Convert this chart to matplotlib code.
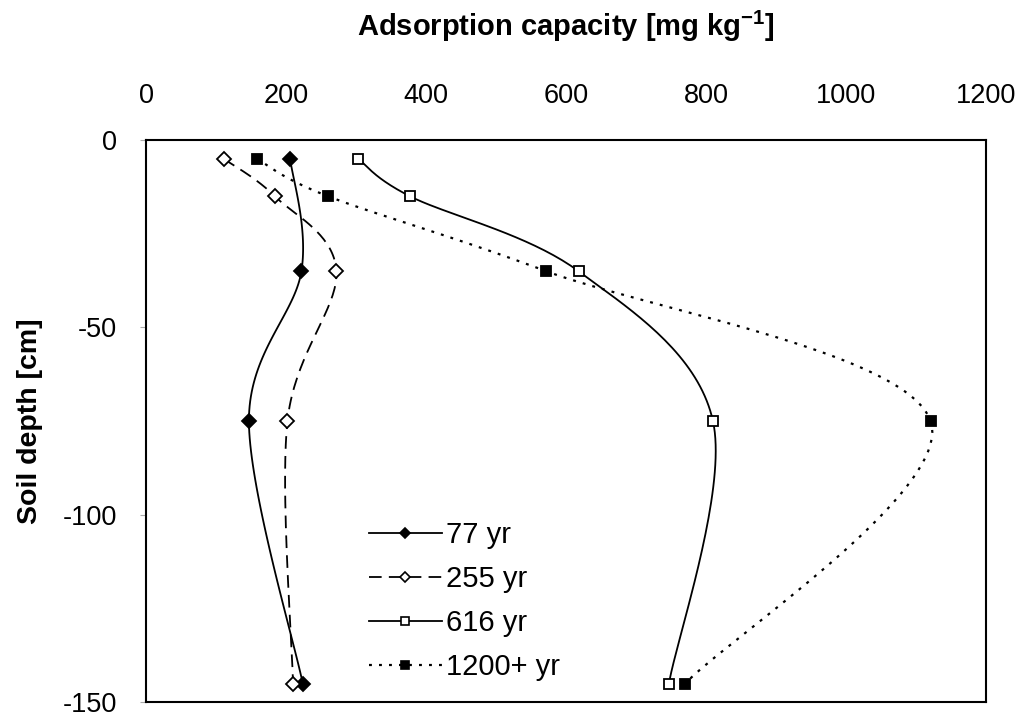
import numpy as np
import matplotlib.pyplot as plt

plt.rcParams['font.family'] = ['Liberation Sans', 'DejaVu Sans']
plt.rcParams['axes.unicode_minus'] = False

# soil depth of each sample [cm]
depth = [-5, -15, -35, -75, -145]
depth_77 = [-5, -35, -75, -145]

# adsorption capacity [mg/kg]
cap_77 = [206, 222, 147, 224]
cap_255 = [111, 184, 272, 202, 210]
cap_616 = [303, 377, 618, 810, 747]
cap_1200 = [158, 260, 572, 1121, 770]

labels = ['77 yr', '255 yr', '616 yr', '1200+ yr']

# pixel scale of each axis, used to smooth the lines in screen space
SX, SY = 0.7, 3.75


def smooth(x, y, n=40):
    # Catmull-Rom style bezier through the points (like spreadsheet "smoothed line")
    p = np.column_stack([np.asarray(x, float) * SX, np.asarray(y, float) * SY])
    pts = [p[0]] + list(p) + [p[-1]]
    out = []
    t = np.linspace(0, 1, n)[:, None]
    for i in range(1, len(pts) - 2):
        p0, p1, p2, p3 = pts[i - 1], pts[i], pts[i + 1], pts[i + 2]
        c1 = p1 + (p2 - p0) / 6
        c2 = p2 - (p3 - p1) / 6
        seg = ((1 - t) ** 3) * p1 + 3 * ((1 - t) ** 2) * t * c1 + 3 * (1 - t) * t ** 2 * c2 + t ** 3 * p2
        out.append(seg if i == 1 else seg[1:])
    out = np.vstack(out)
    return out[:, 0] / SX, out[:, 1] / SY


fig = plt.figure(figsize=(10.19, 7.15), dpi=100)
ax = fig.add_axes([0.1433, 0.0175, 0.8243, 0.7867])

series = [
    (cap_77, depth_77, '-', 'D', 'black', 1.3, 7),
    (cap_255, depth, (0, (7, 4)), 'D', 'white', 1.3, 7),
    (cap_616, depth, '-', 's', 'white', 1.3, 7),
    (cap_1200, depth, (0, (1.3, 3.2)), 's', 'black', 1.6, 7.5),
]

handles = []
for (cx, cy, ls, mk, fc, lw, ms), lab in zip(series, labels):
    sx, sy = smooth(cx, cy)
    ax.plot(sx, sy, color='black', linestyle=ls, linewidth=lw)
    ax.plot(cx, cy, linestyle='none', marker=mk, markersize=ms,
            markerfacecolor=fc, markeredgecolor='black', markeredgewidth=1.3)
    h, = ax.plot([], [], color='black', linestyle=ls, linewidth=lw, marker=mk,
                 markersize=ms - 1.5, markerfacecolor=fc, markeredgecolor='black',
                 markeredgewidth=1.2, label=lab)
    handles.append(h)

ax.set_xlim(0, 1200)
ax.set_ylim(-150, 0)
ax.set_xticks(range(0, 1201, 200))
ax.set_yticks([0, -50, -100, -150])

ax.xaxis.tick_top()
ax.xaxis.set_label_position('top')
ax.tick_params(axis='x', length=0, pad=22, labelsize=19.5)
ax.tick_params(axis='y', length=4, color='#aaaaaa', pad=17, labelsize=19.5)
for s in ax.spines.values():
    s.set_linewidth(1.5)

ax.set_xlabel('Adsorption capacity [mg kg$^{\\mathregular{-1}}$]', fontsize=21,
              fontweight='bold', labelpad=34)
ax.set_ylabel('Soil depth [cm]', fontsize=20.5, fontweight='bold', labelpad=14)

ax.legend(handles=handles, loc='upper left', bbox_to_anchor=(0.265, 0.322),
          frameon=False, fontsize=21, handlelength=2.5, handletextpad=0.15,
          labelspacing=0.55, borderpad=0, borderaxespad=0, numpoints=1)

fig.savefig('out.png', dpi=100)
